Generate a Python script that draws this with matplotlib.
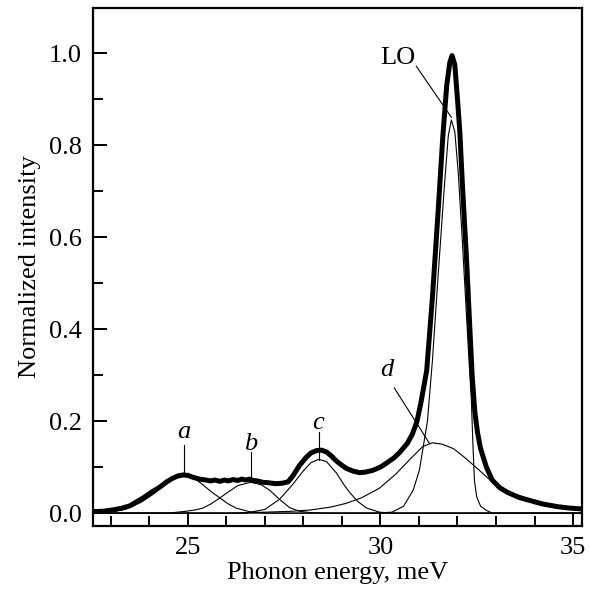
import matplotlib
matplotlib.use("Agg")
import matplotlib.pyplot as plt
from matplotlib.ticker import MultipleLocator

plt.rcParams['font.family'] = ['Liberation Serif', 'DejaVu Serif']

# measured spectrum (thick line)
exp_x = [22.4, 22.8, 23.06, 23.3, 23.5, 23.7, 23.84, 24.05, 24.28, 24.45, 24.61, 24.75,
         24.87, 25.0, 25.13, 25.3, 25.47, 25.6, 25.7, 25.83, 25.95, 26.05, 26.17, 26.3,
         26.4, 26.5, 26.6, 26.7, 26.8, 26.95, 27.1, 27.28, 27.45, 27.6, 27.72, 27.9,
         28.08, 28.2, 28.34, 28.47, 28.6, 28.73, 28.86, 29.0, 29.12, 29.3, 29.46, 29.6,
         29.8, 30.0, 30.16, 30.35, 30.5, 30.7, 30.83, 30.95, 31.05, 31.2, 31.35, 31.5,
         31.62, 31.72, 31.8, 31.86, 31.93, 32.0, 32.06, 32.13, 32.23, 32.31, 32.38, 32.45,
         32.52, 32.6, 32.75, 32.9, 33.1, 33.3, 33.6, 33.9, 34.2, 34.6, 34.9, 35.4]
exp_y = [0.003, 0.004, 0.007, 0.011, 0.016, 0.026, 0.033, 0.045, 0.057, 0.068, 0.076, 0.081,
         0.083, 0.082, 0.078, 0.074, 0.072, 0.070, 0.072, 0.069, 0.072, 0.070, 0.073, 0.071,
         0.074, 0.072, 0.074, 0.071, 0.070, 0.067, 0.066, 0.064, 0.065, 0.068, 0.080, 0.104,
         0.122, 0.131, 0.136, 0.137, 0.133, 0.124, 0.113, 0.104, 0.097, 0.091, 0.088, 0.089,
         0.093, 0.100, 0.109, 0.120, 0.132, 0.152, 0.172, 0.200, 0.240, 0.310, 0.470, 0.660,
         0.820, 0.930, 0.980, 0.995, 0.975, 0.900, 0.830, 0.710, 0.560, 0.420, 0.300, 0.220,
         0.175, 0.140, 0.100, 0.072, 0.055, 0.045, 0.034, 0.027, 0.020, 0.014, 0.011, 0.008]

# fitted components (thin lines)
a_x = [22.4, 23.0, 23.4, 23.8, 24.1, 24.4, 24.65, 24.9, 25.15, 25.4, 25.6, 25.83, 26.05,
       26.25, 26.6, 27.0, 35.4]
a_y = [0.001, 0.003, 0.009, 0.024, 0.041, 0.061, 0.075, 0.082, 0.077, 0.061, 0.047, 0.033,
       0.020, 0.011, 0.003, 0.0, 0.0]

b_x = [22.4, 24.5, 24.95, 25.2, 25.39, 25.6, 25.83, 26.05, 26.3, 26.63, 26.9, 27.12, 27.38,
       27.64, 27.9, 28.2, 28.6, 35.4]
b_y = [0.0, 0.0, 0.004, 0.007, 0.011, 0.020, 0.033, 0.046, 0.060, 0.067, 0.062, 0.050, 0.030,
       0.012, 0.004, 0.001, 0.0, 0.0]

c_x = [22.4, 26.5, 27.0, 27.38, 27.7, 28.0, 28.2, 28.4, 28.6, 28.86, 29.05, 29.2, 29.4,
       29.64, 29.98, 30.3, 35.4]
c_y = [0.0, 0.0, 0.008, 0.030, 0.060, 0.092, 0.110, 0.117, 0.112, 0.087, 0.062, 0.045, 0.026,
       0.011, 0.002, 0.0, 0.0]

d_x = [22.4, 26.0, 27.0, 27.7, 28.2, 28.7, 29.1, 29.5, 29.97, 30.4, 30.8, 31.1, 31.35, 31.6,
       31.9, 32.2, 32.5, 32.9, 33.34, 33.78, 34.2, 34.64, 35.4]
d_y = [0.0, 0.0, 0.002, 0.004, 0.007, 0.013, 0.021, 0.033, 0.054, 0.085, 0.120, 0.145, 0.153,
       0.150, 0.140, 0.120, 0.098, 0.068, 0.046, 0.033, 0.021, 0.014, 0.007]

lo_x = [22.4, 29.8, 30.3, 30.6, 30.85, 31.01, 31.22, 31.35, 31.5, 31.65, 31.76, 31.84, 31.93,
        32.02, 32.12, 32.22, 32.3, 32.36, 32.4, 32.44, 32.5, 32.6, 32.75, 32.9, 35.4]
lo_y = [0.0, 0.0, 0.002, 0.015, 0.050, 0.093, 0.200, 0.333, 0.520, 0.700, 0.820, 0.855, 0.830,
        0.740, 0.600, 0.450, 0.330, 0.246, 0.150, 0.070, 0.035, 0.015, 0.006, 0.0, 0.0]

# peak labels: text, text position, leader line start / end
labels = ['a', 'b', 'c', 'd', 'LO']
label_xy = [(24.9, 0.176), (26.64, 0.150), (28.37, 0.196), (30.17, 0.311), (30.44, 0.99)]
leader_from = [(24.9, 0.148), (26.63, 0.133), (28.4, 0.176), (30.36, 0.272), (30.93, 0.972)]
leader_to = [(24.9, 0.087), (26.63, 0.072), (28.4, 0.115), (31.27, 0.152), (31.84, 0.861)]

fig = plt.figure(figsize=(5.89, 5.90), dpi=100)
ax = fig.add_axes([0.158, 0.1085, 0.83, 0.8775])

for xs, ys in [(a_x, a_y), (b_x, b_y), (c_x, c_y), (d_x, d_y), (lo_x, lo_y)]:
    ax.plot(xs, ys, color='black', lw=0.8)
ax.plot(exp_x, exp_y, color='black', lw=3.6, solid_joinstyle='round')

for t, (tx, ty), p0, p1 in zip(labels, label_xy, leader_from, leader_to):
    style = 'normal' if t == 'LO' else 'italic'
    ax.text(tx, ty, t, fontsize=19, style=style, ha='center', va='center')
    ax.plot([p0[0], p1[0]], [p0[1], p1[1]], color='black', lw=0.8)

ax.set_xlim(22.54, 35.23)
ax.set_ylim(-0.028, 1.098)
ax.xaxis.set_major_locator(MultipleLocator(5))
ax.xaxis.set_minor_locator(MultipleLocator(1))
ax.yaxis.set_major_locator(MultipleLocator(0.2))
ax.yaxis.set_minor_locator(MultipleLocator(0.1))
ax.yaxis.set_major_formatter(plt.FormatStrFormatter('%.1f'))
ax.tick_params(which='both', direction='in', top=False, right=False, width=1.4,
               labelsize=19, pad=8)
ax.tick_params(which='major', length=10)
ax.tick_params(which='minor', length=7)
for s in ax.spines.values():
    s.set_linewidth(1.6)

ax.set_xlabel('Phonon energy, meV', fontsize=19, labelpad=2)
ax.set_ylabel('Normalized intensity', fontsize=19, labelpad=6)

fig.savefig('out.png', dpi=100)
